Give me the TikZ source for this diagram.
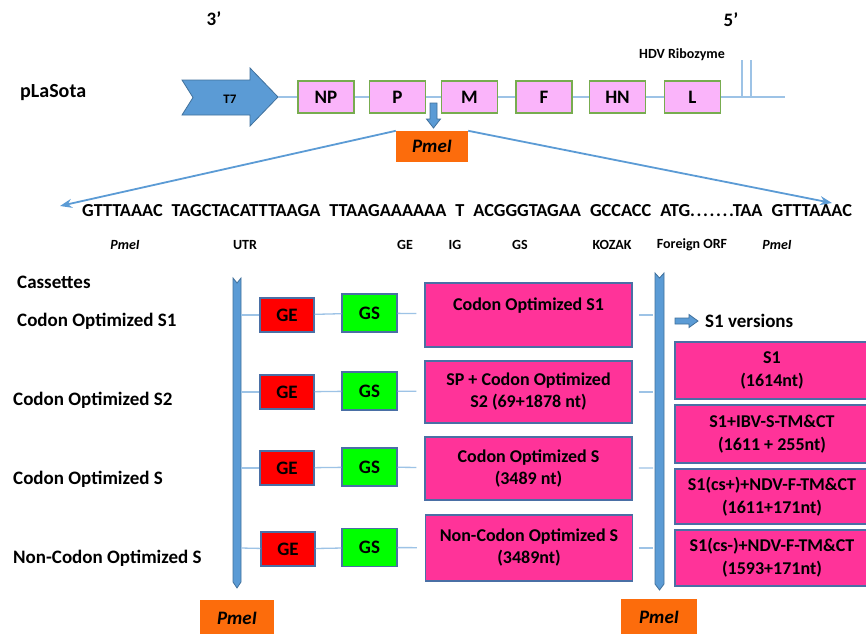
\documentclass[tikz,border=0pt]{standalone}
\usepackage{fontspec}
\setmainfont{Carlito}
\usetikzlibrary{arrows.meta}
\definecolor{arrowblue}{RGB}{91,155,213}
\definecolor{arrowedge}{RGB}{65,113,156}
\definecolor{connblue}{RGB}{157,195,230}
\definecolor{genefill}{RGB}{250,180,250}
\definecolor{geneedge}{RGB}{119,172,79}
\definecolor{pinkfill}{RGB}{255,51,153}
\definecolor{boxedge}{RGB}{74,111,165}
\definecolor{gered}{RGB}{255,0,0}
\definecolor{gsgreen}{RGB}{0,255,0}
\definecolor{pmeorange}{RGB}{252,108,12}
\newcommand\fsz[2]{\fontsize{#1}{#2}\selectfont}
\newcommand\seqgap{\hspace{9pt}}
\newcommand\seqdots{.\hspace{1.6pt}.\hspace{1.6pt}.\hspace{1.6pt}.\hspace{1.6pt}.\hspace{1.6pt}.\hspace{1.6pt}.}
\begin{document}
\begin{tikzpicture}[x=1pt,y=-1pt,
  txt/.style={inner sep=0pt, font=\fsz{19}{22}\bfseries},
  small/.style={inner sep=0pt, font=\fsz{14}{16}\bfseries},
  seq/.style={inner sep=0pt, anchor=base west, font=\fsz{18.3}{20}\bfseries},
  genebox/.style={draw=geneedge, line width=1.5pt, fill=genefill, minimum width=56pt, minimum height=32pt, inner sep=0pt, font=\fsz{19}{22}\bfseries},
  gebox/.style={draw=boxedge, line width=1.3pt, fill=gered, minimum width=54pt, minimum height=34pt, inner sep=0pt, font=\fsz{19}{22}\bfseries},
  gsbox/.style={draw=boxedge, line width=1.3pt, fill=gsgreen, minimum width=55pt, minimum height=38pt, inner sep=0pt, font=\fsz{19}{22}\bfseries},
  pinkbox/.style={draw=boxedge, line width=1.5pt, fill=pinkfill, minimum width=207pt, inner sep=0pt, align=center, font=\fsz{18}{22}\bfseries},
  s1box/.style={draw=boxedge, line width=1.5pt, fill=pinkfill, minimum width=194pt, inner sep=0pt, align=center, font=\fsz{18}{23}\bfseries},
  pmebox/.style={fill=pmeorange, inner sep=0pt, font=\fsz{19}{22}\bfseries\itshape},
  conn/.style={draw=connblue, line width=1.3pt},
  bluearrow/.style={fill=arrowblue, draw=arrowedge, line width=0.8pt},
  seqarrow/.style={draw=arrowblue, line width=1.8pt, -{Stealth[length=12pt,width=9pt]}}
]
\useasboundingbox (0,0) rectangle (866,633);
\fill[white] (0,0) rectangle (866,633);

% ---------- top: pLaSota genome ----------
\node[txt] (three) at (214,19) {3’};
\node[txt] (five) at (731,20) {5’};
\node[txt, anchor=west, font=\fsz{20}{24}\bfseries] (plasota) at (20,93) {pLaSota};
\node[small] (hdv) at (682,55) {HDV Ribozyme};

\filldraw[bluearrow] (182,80) -- (250,80) -- (250,68) -- (278,97) -- (250,126) -- (250,115) -- (182,115) -- (193,97.5) -- cycle;
\node[inner sep=0pt, font=\fsz{13}{15}\bfseries] (t7) at (230,99) {T7};
\coordinate (t7tip) at (278,97);
\coordinate (lineend) at (785,97);

\node[genebox] (NP) at (326,97) {NP};
\node[genebox] (P) at (397.5,97) {P};
\node[genebox] (M) at (469.5,97) {M};
\node[genebox] (F) at (544,97) {F};
\node[genebox] (HN) at (617.5,97) {HN};
\node[genebox] (L) at (692.5,97) {L};

\draw[conn] (t7tip) -- (NP);
\draw[conn] (NP) -- (P);
\draw[conn] (P) -- (M);
\draw[conn] (M) -- (F);
\draw[conn] (F) -- (HN);
\draw[conn] (HN) -- (L);
\draw[conn] (L) -- (lineend);
\coordinate (rz1t) at (742,60); \coordinate (rz1b) at (742,97);
\coordinate (rz2t) at (751,60); \coordinate (rz2b) at (751,97);
\draw[conn] (rz1t) -- (rz1b);
\draw[conn] (rz2t) -- (rz2b);

% down arrow to PmeI
\filldraw[bluearrow] (430,103) -- (437,103) -- (437,119) -- (440.5,119) -- (433.5,128) -- (426.5,119) -- (430,119) -- cycle;
\node[pmebox, minimum width=72pt, minimum height=31pt] (pmetop) at (432,146.5) {PmeI};
\coordinate (seqL) at (60,206);
\coordinate (seqR) at (832,203);
\draw[seqarrow] (pmetop.north west) -- (seqL);
\draw[seqarrow] (pmetop.north east) -- (seqR);

% ---------- sequence ----------
\node[seq] (seqtext) at (82,216) {GTTTAAAC\seqgap TAGCTACATTTAAGA\seqgap TTAAGAAAAAA\seqgap T\seqgap ACGGGTAGAA\seqgap GCCACC\seqgap ATG\seqdots TAA\seqgap GTTTAAAC};

\node[small, font=\fsz{14}{16}\bfseries\itshape] (l1) at (125,245) {PmeI};
\node[small] (l2) at (245,245) {UTR};
\node[small] (l3) at (405,245) {GE};
\node[small] (l4) at (455,245) {IG};
\node[small] (l5) at (520,245) {GS};
\node[small] (l6) at (612,245) {KOZAK};
\node[small] (l7) at (692,245) {Foreign ORF};
\node[small, font=\fsz{14}{16}\bfseries\itshape] (l8) at (777,245) {PmeI};

% ---------- cassettes ----------
\node[txt, anchor=west] (cas) at (17,282) {Cassettes};
\node[txt, anchor=west] (c1) at (17,321) {Codon Optimized S1};
\node[txt, anchor=west] (c2) at (13,400) {Codon Optimized S2};
\node[txt, anchor=west] (c3) at (13,479) {Codon Optimized S};
\node[txt, anchor=west] (c4) at (13,558) {Non-Codon Optimized S};

\filldraw[bluearrow] (233,278) -- (237,283) -- (241,278) -- (241,582) -- (237,588) -- (233,582) -- cycle;
\filldraw[bluearrow] (655,273) -- (659.5,278) -- (664,273) -- (664,584) -- (659.5,590) -- (655,584) -- cycle;

% row 1
\coordinate (lb1) at (241,315);
\coordinate (rb1) at (653,315);
\node[gebox] (ge1) at (287,315) {GE};
\node[gsbox] (gs1) at (369.5,313) {GS};
\node[pinkbox, minimum height=64pt] (pk1) at (528.5,315) {Codon Optimized S1\\\mbox{}};
\draw[conn] (lb1) -- (ge1);
\draw[conn] (ge1) -- (gs1);
\draw[conn, shorten >=8pt] (gs1) -- (pk1);
\draw[conn, shorten <=6pt] (pk1) -- (rb1);

% row 2
\coordinate (lb2) at (241,392);
\coordinate (rb2) at (653,392);
\node[gebox] (ge2) at (287,392) {GE};
\node[gsbox] (gs2) at (369.5,391) {GS};
\node[pinkbox, minimum height=62pt] (pk2) at (528.5,392) {SP + Codon Optimized\\S2 (69+1878 nt)};
\draw[conn] (lb2) -- (ge2);
\draw[conn] (ge2) -- (gs2);
\draw[conn, shorten >=8pt] (gs2) -- (pk2);
\draw[conn, shorten <=6pt] (pk2) -- (rb2);

% row 3
\coordinate (lb3) at (241,468);
\coordinate (rb3) at (653,468);
\node[gebox] (ge3) at (287,468) {GE};
\node[gsbox] (gs3) at (369.5,467) {GS};
\node[pinkbox, minimum height=63pt] (pk3) at (528.5,468.5) {Codon Optimized S\\(3489 nt)};
\draw[conn] (lb3) -- (ge3);
\draw[conn] (ge3) -- (gs3);
\draw[conn, shorten >=8pt] (gs3) -- (pk3);
\draw[conn, shorten <=6pt] (pk3) -- (rb3);

% row 4
\coordinate (lb4) at (241,548);
\coordinate (rb4) at (653,548);
\node[gebox] (ge4) at (288,549) {GE};
\node[gsbox] (gs4) at (369.5,547.5) {GS};
\node[pinkbox, minimum height=66pt] (pk4) at (529,548) {Non-Codon Optimized S\\(3489nt)};
\draw[conn] (lb4) -- (ge4);
\draw[conn] (ge4) -- (gs4);
\draw[conn, shorten >=8pt] (gs4) -- (pk4);
\draw[conn, shorten <=6pt] (pk4) -- (rb4);

% ---------- S1 versions ----------
\filldraw[bluearrow] (675,318) -- (689,318) -- (689,314.5) -- (698,321) -- (689,327.5) -- (689,324) -- (675,324) -- cycle;
\node[txt, anchor=west] (s1v) at (705,321) {S1 versions};
\node[s1box, minimum height=57pt] (v1) at (772,370.5) {S1\\(1614nt)};
\node[s1box, minimum height=58pt] (v2) at (772,434) {S1+IBV-S-TM\&CT\\(1611 + 255nt)};
\node[s1box, minimum height=55pt] (v3) at (772,496.5) {S1(cs+)+NDV-F-TM\&CT\\(1611+171nt)};
\node[s1box, minimum height=56pt] (v4) at (772,558) {S1(cs-)+NDV-F-TM\&CT\\(1593+171nt)};

% ---------- bottom PmeI ----------
\node[pmebox, minimum width=74pt, minimum height=36pt] (pmeL) at (237,618) {PmeI};
\node[pmebox, minimum width=76pt, minimum height=36pt] (pmeR) at (659,617) {PmeI};
\end{tikzpicture}
\end{document}
